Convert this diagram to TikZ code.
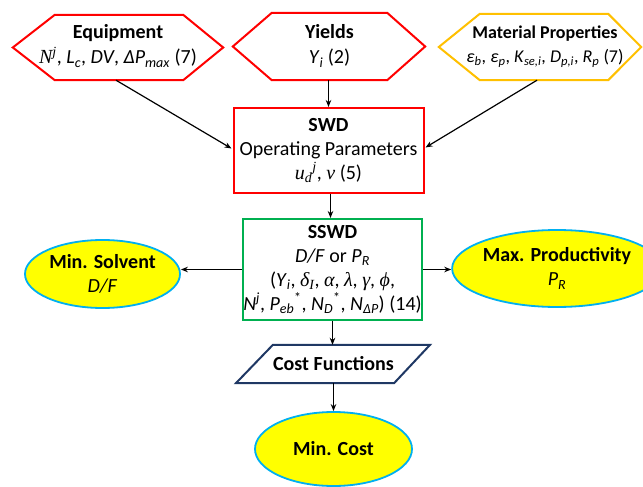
\documentclass[tikz,border=0pt]{standalone}
\usepackage{fontspec}
\setmainfont{Carlito}
\newfontfamily\mathserif{Liberation Serif}
\usetikzlibrary{shapes.geometric,arrows.meta,calc}
\definecolor{hexred}{RGB}{255,0,0}
\definecolor{gold}{RGB}{255,192,0}
\definecolor{boxgreen}{RGB}{0,176,80}
\definecolor{navy}{RGB}{31,56,100}
\definecolor{ellblue}{RGB}{0,176,240}
\definecolor{ellfill}{RGB}{255,255,0}
\newcommand\sbs[1]{\textsubscript{#1}}
\newcommand\sps[1]{\textsuperscript{#1}}
\newcommand\mi[1]{{\mathserif\itshape #1}}
\begin{document}
\begin{tikzpicture}[x=1pt,y=-1pt,
  txt/.style={align=center, font=\fontsize{20}{25}\selectfont, inner sep=0pt},
  arr/.style={-{Stealth[length=7pt,width=5.5pt]}, line width=1.2pt, black},
  hexline/.style={line width=2pt, line join=miter},
  hexarea/.style={draw=none, inner sep=0pt},
  ell/.style={ellipse, draw=ellblue, fill=ellfill, line width=1.8pt, inner sep=0pt, align=center, font=\fontsize{20}{24}\selectfont},
  boxnode/.style={rectangle, line width=2pt, inner sep=0pt, align=center, font=\fontsize{20}{24}\selectfont}
]
\useasboundingbox (0,0) rectangle (643,487);
\fill[white] (0,0) rectangle (643,487);

% hexagons
\node[hexarea, minimum width=128pt, minimum height=65pt] (equip) at (119,47.5) {};
\draw[hexline, draw=hexred] (equip.north west) -- (equip.north east) -- ($(equip.east)+(40,0)$)
  -- (equip.south east) -- (equip.south west) -- ($(equip.west)+(-42,0)$) -- cycle;
\node[txt] (equiptxt) at (118,46) {\textbf{Equipment}\\\mi{N}\sps{\mi{j}}, \textit{L}\sbs{\textit{c}}, \textit{DV}, \textit{ΔP}\sbs{\textit{max}} (7)};

\node[hexarea, minimum width=115pt, minimum height=67pt] (yield) at (329.5,46.5) {};
\draw[hexline, draw=hexred] (yield.north west) -- (yield.north east) -- ($(yield.east)+(38,0)$)
  -- (yield.south east) -- (yield.south west) -- ($(yield.west)+(-39,0)$) -- cycle;
\node[txt] (yieldtxt) at (329.5,46) {\textbf{Yields}\\\textit{Y}\sbs{\textit{i}} (2)};

\node[hexarea, minimum width=128pt, minimum height=66pt] (mat) at (544,47) {};
\draw[hexline, draw=gold] (mat.north west) -- (mat.north east) -- ($(mat.east)+(33,0)$)
  -- (mat.south east) -- (mat.south west) -- ($(mat.west)+(-41,0)$) -- cycle;
\node[txt, font=\fontsize{18}{24}\selectfont] (mattxt) at (545,47) {\textbf{Material Properties}\\\textit{ε}\sbs{\textit{b}}, \textit{ε}\sbs{\textit{p}}, \textit{K}\sbs{\textit{se,i}}, \textit{D}\sbs{\textit{p,i}}, \textit{R}\sbs{\textit{p}} (7)};

% SWD
\node[boxnode, draw=hexred, minimum width=190pt, minimum height=85pt] (swd) at (328.5,150.5)
  {\textbf{SWD}\\Operating Parameters\\\mi{u}\sbs{\mi{d}}\sps{\mi{j}}, \mi{ν} (5)};

% SSWD
\node[boxnode, draw=boxgreen, minimum width=179pt, minimum height=101pt] (sswd) at (332.5,269.5)
  {\textbf{SSWD}\\\textit{D/F} or \textit{P}\sbs{\textit{R}}\\(\textit{Y}\sbs{\textit{i}}, \mi{δ}\sbs{\mi{I}}, \mi{α}, \mi{λ}, \mi{γ}, \mi{ϕ},\\\textit{N}\sps{\textit{j}}, \textit{P}\sbs{\textit{eb}}\sps{*}, \textit{N}\sbs{\textit{D}}\sps{*}, \textit{N}\sbs{\textit{ΔP}}) (14)};

% ellipses
\node[ell, minimum width=155pt, minimum height=68pt] (minsol) at (102.5,274) {\textbf{Min. Solvent}\\\textit{D/F}};
\node[ell, minimum width=152pt, minimum height=77pt] (maxprod) at (557,268.5) {\textbf{Max. Productivity}\\\textit{P}\sbs{\textit{R}}};

% cost functions
\node[hexarea, minimum width=111pt, minimum height=38pt, font=\fontsize{20}{24}\selectfont] (cost) at (333.5,364) {\textbf{Cost Functions}};
\draw[line width=2pt, draw=navy, line join=miter] (cost.north west) -- ($(cost.north east)+(36,0)$)
  -- (cost.south east) -- ($(cost.south west)+(-37,0)$) -- cycle;

\node[ell, minimum width=157pt, minimum height=74pt] (mincost) at (333.5,449) {\textbf{Min. Cost}};

% connectors
\draw[arr] ($(equip.south)+(-3,0)$) -- ($(swd.west)+(-1,-2)$);
\draw[arr] ($(mat.south)+(-7,0)$) -- ($(swd.east)+(1,-3)$);
\draw[arr] (yield.south -| swd.north) -- (swd.north);
\draw[arr] ($(swd.south)+(2,0)$) -- ($(swd.south |- sswd.north)+(2,0)$);
\draw[arr] (sswd.west) -- (sswd.west -| minsol.east);
\draw[arr] (sswd.east) -- (sswd.east -| maxprod.west);
\draw[arr] (sswd.south) -- (sswd.south |- cost.north);
\draw[arr] (cost.south) -- (mincost.north);
\end{tikzpicture}
\end{document}
